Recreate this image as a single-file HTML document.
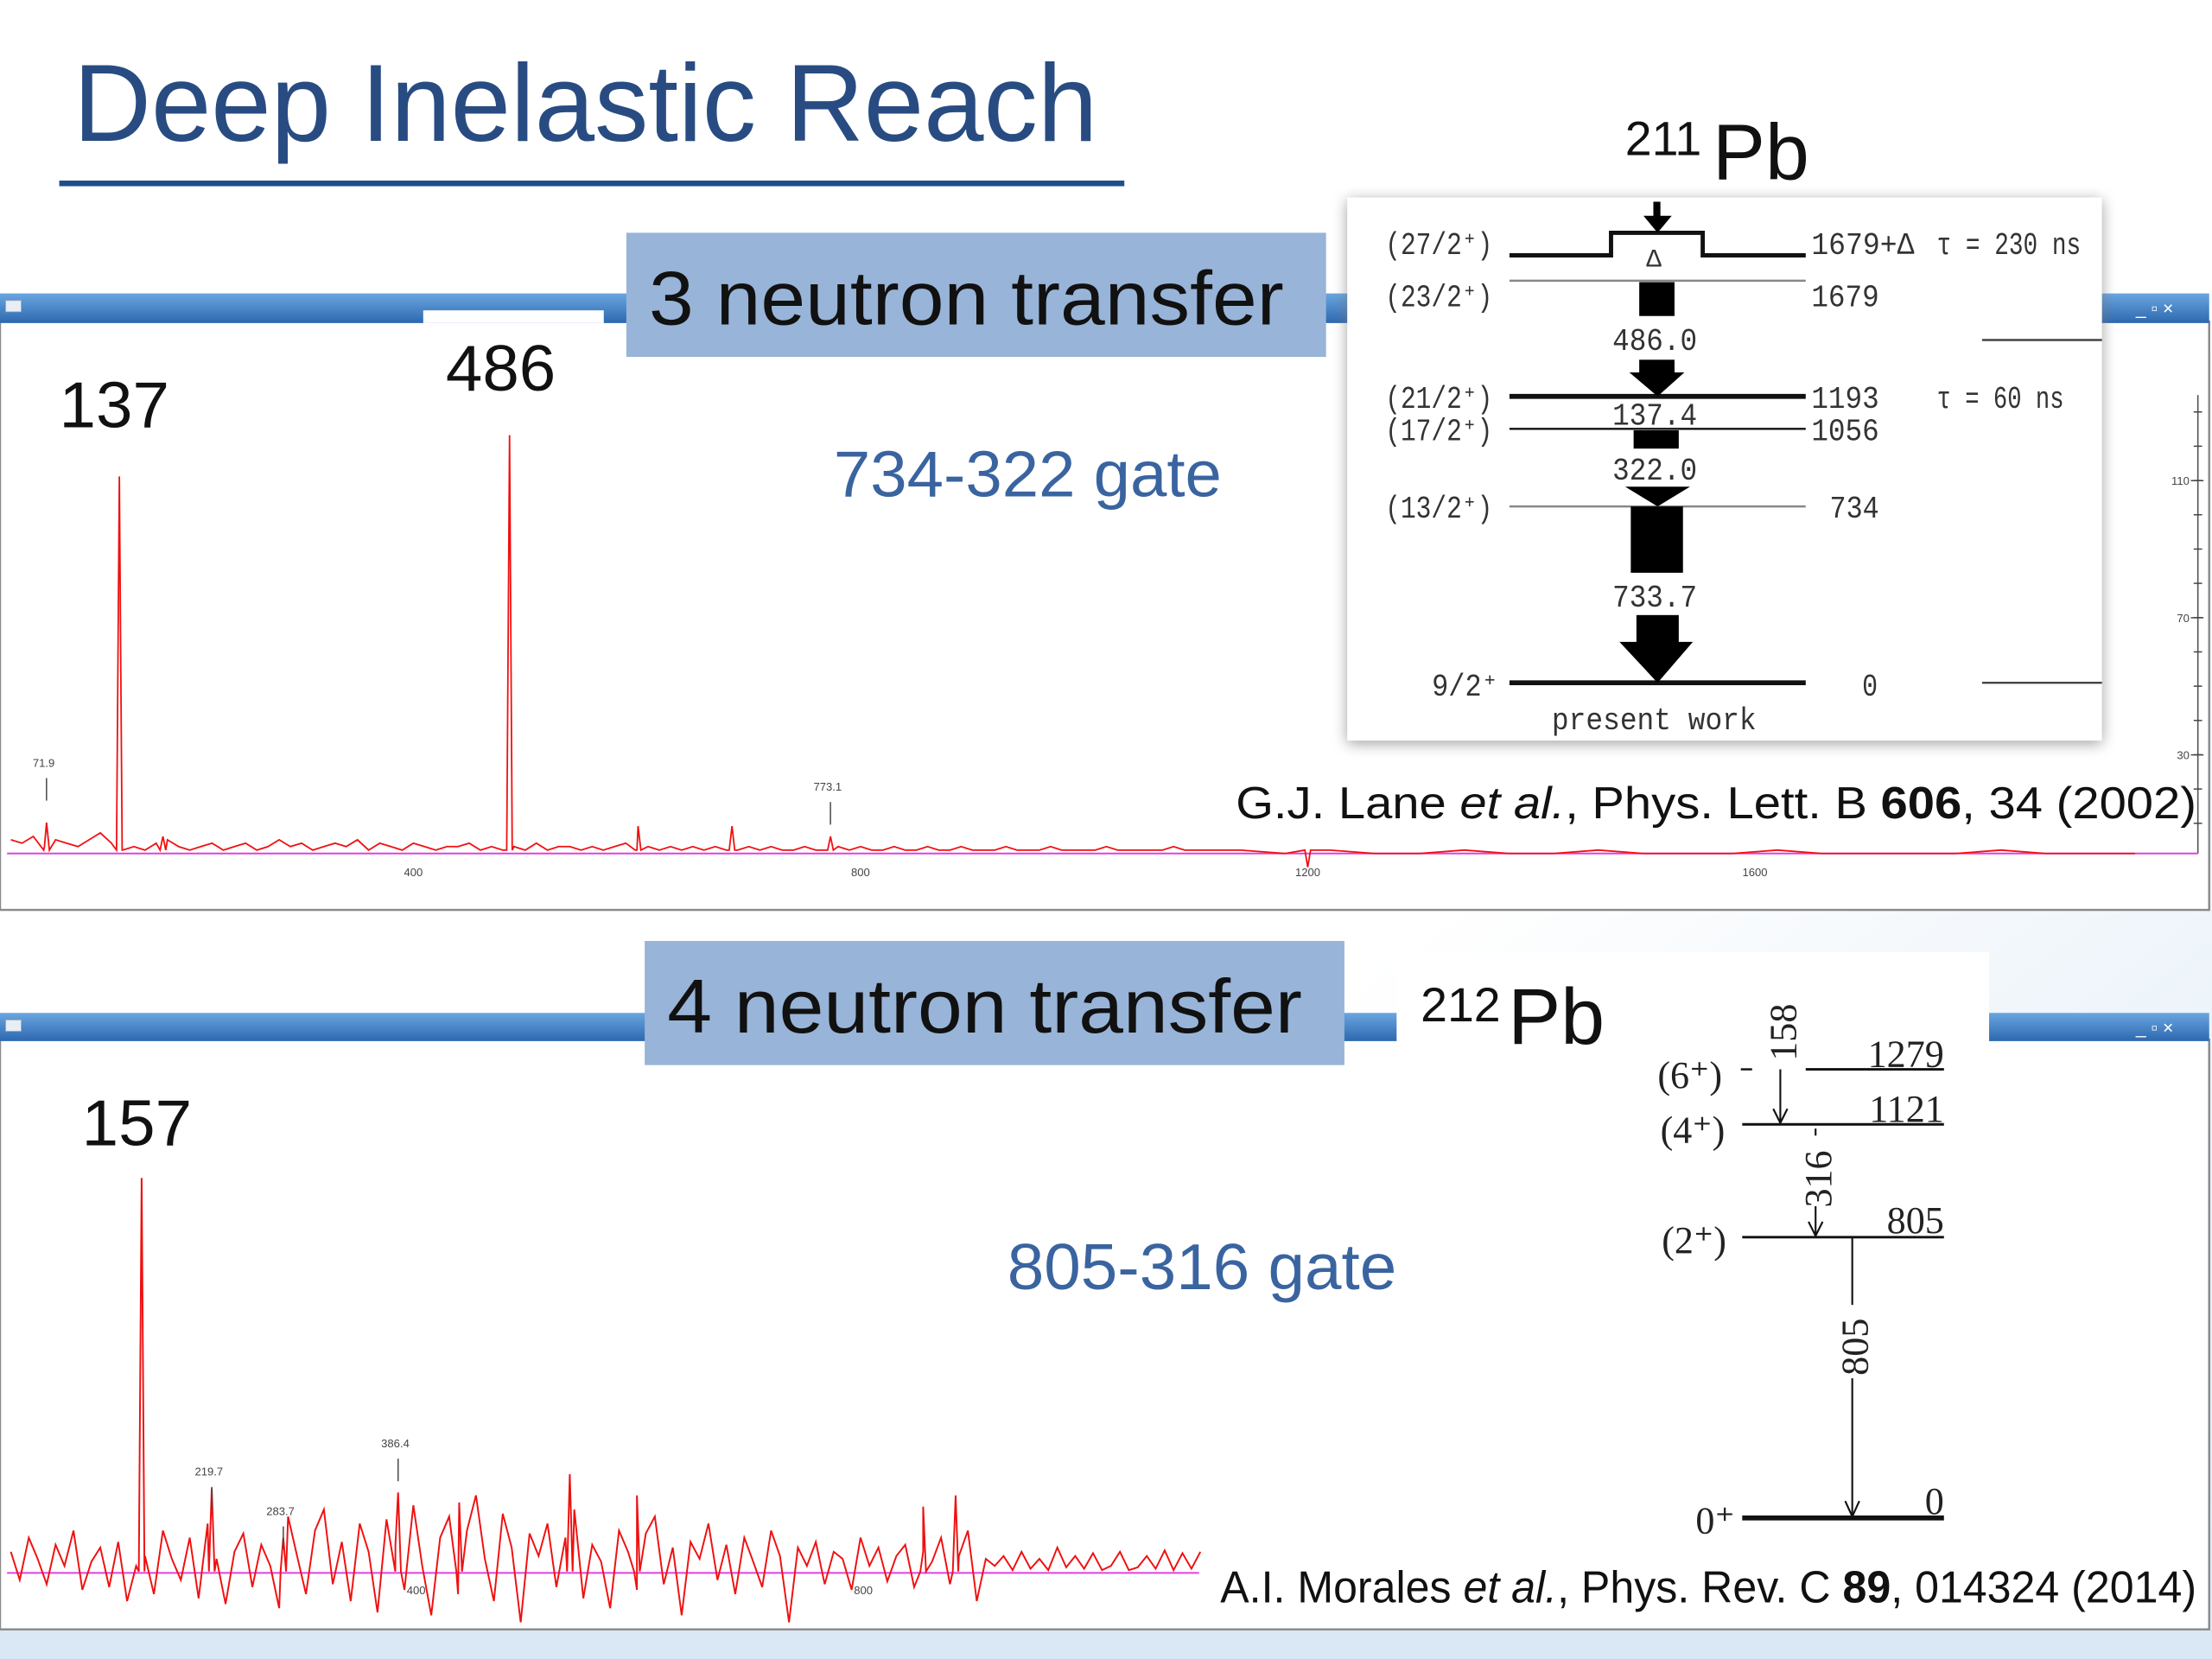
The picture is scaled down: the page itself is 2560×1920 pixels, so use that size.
<!DOCTYPE html>
<html><head><meta charset="utf-8"><style>
html,body{margin:0;padding:0;background:#fff;}
svg{display:block;}
</style></head><body>
<svg id="slide" width="2560" height="1920" viewBox="0 0 1568 1176" xmlns="http://www.w3.org/2000/svg">
<defs>
<linearGradient id="bar" x1="0" y1="0" x2="0" y2="1"><stop offset="0" stop-color="#6aa6e0"/><stop offset="1" stop-color="#2d68b0"/></linearGradient>
<linearGradient id="bg" x1="0" y1="0" x2="1" y2="1"><stop offset="0.6" stop-color="#ffffff"/><stop offset="1" stop-color="#dbe9f5"/></linearGradient>
<filter id="sh" x="-5%" y="-5%" width="110%" height="110%"><feGaussianBlur stdDeviation="5"/></filter>
</defs>
<rect width="1568" height="1176" fill="url(#bg)"/>
<rect y="1155" width="1568" height="21" fill="#d9e8f4"/>

<text x="52" y="100" font-family="Liberation Sans, sans-serif" font-size="78" fill="#284c82" textLength="726" lengthAdjust="spacingAndGlyphs">Deep Inelastic Reach</text>
<rect x="42" y="128" width="755" height="4" fill="#1f4e8c"/>

<!-- top window -->
<g>
<rect x="0" y="228" width="1566" height="417" fill="#fff" stroke="#8a8a8a" stroke-width="1.5"/>
<rect x="0" y="208" width="1566" height="21" fill="url(#bar)"/>
<rect x="300" y="220" width="128" height="9" fill="#fff"/>
<rect x="4" y="213" width="11" height="8" fill="#e8eef6" stroke="#9ab" stroke-width="0.5"/>
<text x="1514" y="223" font-family="Liberation Sans, sans-serif" font-size="13" fill="#fff">_ ▫ ×</text>
</g>
<line x1="1558" y1="280" x2="1558" y2="605" stroke="#555" stroke-width="1"/>
<g id="topYTicks"></g>
<g id="topXTicks"></g>
<line x1="5" y1="605" x2="1558" y2="605" stroke="#e040e0" stroke-width="1.2"/>
<polyline id="topSpec" fill="none" stroke="#f01010" stroke-width="1.1"/>
<g id="topLabels"></g>

<rect x="444" y="165" width="496" height="88" fill="#98b4d8"/>
<text x="460" y="230" font-family="Liberation Sans, sans-serif" font-size="54" fill="#111" textLength="450" lengthAdjust="spacingAndGlyphs">3 neutron transfer</text>
<text x="42" y="303" font-family="Liberation Sans, sans-serif" font-size="46" fill="#111" textLength="78" lengthAdjust="spacingAndGlyphs">137</text>
<text x="316" y="277" font-family="Liberation Sans, sans-serif" font-size="46" fill="#111" textLength="78" lengthAdjust="spacingAndGlyphs">486</text>
<text x="591" y="352" font-family="Liberation Sans, sans-serif" font-size="46" fill="#3a64a0" textLength="275" lengthAdjust="spacingAndGlyphs">734-322 gate</text>

<!-- 211Pb level scheme -->
<text font-family="Liberation Sans, sans-serif" fill="#111"><tspan x="1152" y="110" font-size="34">211</tspan><tspan x="1214" y="127" font-size="56">Pb</tspan></text>
<rect x="955" y="142" width="535" height="385" fill="#777" filter="url(#sh)" opacity="0.7"/>
<rect x="955" y="140" width="535" height="385" fill="#fff"/>
<line x1="1405" y1="241" x2="1490" y2="241" stroke="#444" stroke-width="1.5"/>
<line x1="1405" y1="484" x2="1490" y2="484" stroke="#444" stroke-width="1.5"/>
<g font-family="Liberation Mono, monospace" font-size="22" fill="#333" lengthAdjust="spacingAndGlyphs">
<text x="982" y="180" textLength="76" lengthAdjust="spacingAndGlyphs">(27/2⁺)</text>
<text x="982" y="217" textLength="76" lengthAdjust="spacingAndGlyphs">(23/2⁺)</text>
<text x="982" y="289" textLength="76" lengthAdjust="spacingAndGlyphs">(21/2⁺)</text>
<text x="982" y="312" textLength="76" lengthAdjust="spacingAndGlyphs">(17/2⁺)</text>
<text x="982" y="367" textLength="76" lengthAdjust="spacingAndGlyphs">(13/2⁺)</text>
<text x="1015" y="493" textLength="47" lengthAdjust="spacingAndGlyphs">9/2⁺</text>
<text x="1284" y="180" textLength="73" lengthAdjust="spacingAndGlyphs">1679+Δ</text><text x="1373" y="180" textLength="102" lengthAdjust="spacingAndGlyphs">τ = 230 ns</text>
<text x="1284" y="217" textLength="48" lengthAdjust="spacingAndGlyphs">1679</text>
<text x="1284" y="289" textLength="48" lengthAdjust="spacingAndGlyphs">1193</text><text x="1373" y="289" textLength="90" lengthAdjust="spacingAndGlyphs">τ = 60 ns</text>
<text x="1284" y="312" textLength="48" lengthAdjust="spacingAndGlyphs">1056</text>
<text x="1297" y="367" textLength="35" lengthAdjust="spacingAndGlyphs">734</text>
<text x="1320" y="493" textLength="11" lengthAdjust="spacingAndGlyphs">0</text>
<text x="1143" y="248" textLength="60" lengthAdjust="spacingAndGlyphs">486.0</text>
<text x="1143" y="301" textLength="60" lengthAdjust="spacingAndGlyphs">137.4</text>
<text x="1143" y="340" textLength="60" lengthAdjust="spacingAndGlyphs">322.0</text>
<text x="1143" y="430" textLength="60" lengthAdjust="spacingAndGlyphs">733.7</text>
<text x="1167" y="189" font-size="18">Δ</text>
<text x="1100" y="517" textLength="145" lengthAdjust="spacingAndGlyphs">present work</text>
</g>
<g stroke="#111" fill="none">
<polyline points="1070,181 1142,181 1142,165 1207,165 1207,181 1280,181" stroke-width="3"/>
<line x1="1070" y1="199" x2="1280" y2="199" stroke="#888" stroke-width="1.5"/>
<line x1="1070" y1="281" x2="1280" y2="281" stroke-width="3.5"/>
<line x1="1070" y1="304" x2="1280" y2="304" stroke-width="1.5"/>
<line x1="1070" y1="359" x2="1280" y2="359" stroke="#888" stroke-width="1.5"/>
<line x1="1070" y1="484" x2="1280" y2="484" stroke-width="3.5"/>
</g>
<g fill="#000">
<rect x="1172" y="143" width="5" height="12"/><polygon points="1165,153 1185,153 1175,165"/>
<rect x="1162" y="200" width="25" height="24"/>
<rect x="1162" y="255" width="25" height="9"/><polygon points="1155,264 1194,264 1175,281"/>
<rect x="1158" y="305" width="32" height="13"/>
<polygon points="1152,345 1198,345 1175,359"/>
<rect x="1156" y="359" width="37" height="47"/>
<rect x="1160" y="436" width="30" height="20"/><polygon points="1148,455 1200,455 1175,484"/>
</g>

<text x="876" y="580" font-family="Liberation Sans, sans-serif" font-size="32" fill="#111" textLength="681" lengthAdjust="spacingAndGlyphs">G.J. Lane <tspan font-style="italic">et al.</tspan>, Phys. Lett. B <tspan font-weight="bold">606</tspan>, 34 (2002)</text>

<!-- bottom window -->
<g>
<rect x="0" y="737" width="1566" height="418" fill="#fff" stroke="#8a8a8a" stroke-width="1.5"/>
<rect x="0" y="718" width="1566" height="20" fill="url(#bar)"/>
<rect x="4" y="723" width="11" height="8" fill="#e8eef6" stroke="#9ab" stroke-width="0.5"/>
<text x="1514" y="733" font-family="Liberation Sans, sans-serif" font-size="13" fill="#fff">_ ▫ ×</text>
</g>
<rect x="990" y="675" width="420" height="420" fill="#fff"/>
<g id="botXTicks"></g>
<line x1="5" y1="1115" x2="850" y2="1115" stroke="#e040e0" stroke-width="1.2"/>
<polyline id="botSpec" fill="none" stroke="#f01010" stroke-width="1.2"/>
<g id="botLabels"></g>

<rect x="457" y="667" width="496" height="88" fill="#98b4d8"/>
<text x="473" y="732" font-family="Liberation Sans, sans-serif" font-size="54" fill="#111" textLength="450" lengthAdjust="spacingAndGlyphs">4 neutron transfer</text>
<text x="58" y="812" font-family="Liberation Sans, sans-serif" font-size="46" fill="#111" textLength="78" lengthAdjust="spacingAndGlyphs">157</text>
<text x="714" y="914" font-family="Liberation Sans, sans-serif" font-size="46" fill="#3a64a0" textLength="276" lengthAdjust="spacingAndGlyphs">805-316 gate</text>
<text font-family="Liberation Sans, sans-serif" fill="#111"><tspan x="1007" y="724" font-size="34">212</tspan><tspan x="1069" y="740" font-size="56">Pb</tspan></text>

<g font-family="Liberation Serif, serif" font-size="27" fill="#222">
<g stroke="#111" fill="none">
<line x1="1280" y1="758" x2="1378" y2="758" stroke-width="1.8"/>
<line x1="1235" y1="797" x2="1378" y2="797" stroke-width="1.8"/>
<line x1="1235" y1="877" x2="1378" y2="877" stroke-width="1.8"/>
<line x1="1235" y1="1076" x2="1378" y2="1076" stroke-width="3.5"/>
<line x1="1234" y1="758" x2="1242" y2="758" stroke-width="1.5"/>
<line x1="1262" y1="758" x2="1262" y2="796" stroke-width="1.3"/><polyline points="1257,786 1262,796 1267,786" stroke-width="1.3"/>
<line x1="1287" y1="800" x2="1287" y2="876" stroke-width="1.3"/><polyline points="1282,866 1287,876 1292,866" stroke-width="1.3"/>
<line x1="1313" y1="877" x2="1313" y2="1075" stroke-width="1.3"/><polyline points="1308,1064 1313,1075 1318,1064" stroke-width="1.3"/>
</g>
<rect x="1300" y="925" width="26" height="52" fill="#fff"/>
<rect x="1274" y="805" width="26" height="50" fill="#fff"/>
<text x="1175" y="771">(6⁺)</text><text x="1177" y="810">(4⁺)</text><text x="1178" y="888">(2⁺)</text><text x="1202" y="1087">0⁺</text>
<text x="1378" y="756" text-anchor="end">1279</text><text x="1378" y="795" text-anchor="end">1121</text>
<text x="1378" y="874" text-anchor="end">805</text><text x="1378" y="1073" text-anchor="end">0</text>
<text transform="translate(1273,752) rotate(-90)">158</text>
<text transform="translate(1298,856) rotate(-90)">316</text>
<text transform="translate(1324,975) rotate(-90)">805</text>
</g>

<text x="865" y="1136" font-family="Liberation Sans, sans-serif" font-size="32" fill="#111" textLength="692" lengthAdjust="spacingAndGlyphs">A.I. Morales <tspan font-style="italic">et al.</tspan>, Phys. Rev. C <tspan font-weight="bold">89</tspan>, 014324 (2014)</text>
</svg>
<script>
// ---- data ----
const topBg = [4,3,5,2,4,3,2,4,6,3, 1,2,1,3,4,2,1,2,3,1, 2,3,1,2,4,2,3,1,2,3, 2,4,1,3,2,1,3,2,1,2, 2,3,1,2,1,2,1,3,1,2, 2,1,2,1,2,3,1,2,1,2, 1,2,1,2,1,1,2,1,2,1, 1,2,1,1,2,1,2,1,1,2, 1,1,2,1,1,2,1,1,1,2, 1,1,1,2,1,1,1,1,2,1, 1,1,1,1,2,1,1];
const topTail = [1,0,1,0,0,1,0,0,1,0,0,0,1,0,0,0,0,1,0,0,0];
const topPeakE = [71.9,137,176,486,601,685,773.1,1200];
const topPeakC = [9,110,5,122,8,8,5,-4];
const topYTickVals = [30,70,110];
const xTickVals = [400,800,1200,1600];
const botXTickVals = [400,800];
const botBg = [15,-5,25,10,-8,20,5,30,-12,8, 18,-10,22,-20,5,12,-15,30,10,-5, 25,-18,35,10,-22,15,28,-10,20,5, -25,40,12,-15,30,45,-8,22,-20,35, 15,-28,38,20,-12,48,5,-30,25,40, -15,30,55,10,-20,42,18,-35,28,12, 35,-10,25,45,-18,20,8,-25,30,15, -12,28,40,-8,18,-30,22,10,35,-5, 20,-15,25,8,-10,30,12,-35,18,5, 22,-8,15,10,-12,25,5,18,-6,12, 20,-10,15,8,25,-8,12,30,-20,10, 5,12,2,15,3,10,2,18,4,12, 3,14,2,5,15,2,4,12,3,16,2,14,3,15];
const botPeakE = [157,219.7,283.7,386.4,441,540,600,856,885];
const botPeakC = [280,60,25,57,50,70,55,47,55];
const topLabelE = [71.9,773.1];
const topLabelTxt = ["71.9","773.1"];
const topLabelC = [22,15];
const botLabelE = [219.7,283.7,386.4];
const botLabelTxt = ["219.7","283.7","386.4"];
const botLabelC = [45,17,65];

// ---- scales ----
function xE(e){return 293+(e-400)*0.7925;}
function yTop(c){return 605-c*2.43;}
function yBot(c){return 1115-c;}
const NS="http://www.w3.org/2000/svg";

function buildSeries(bg,step,start,tail,tailStep,tailStart,pE,pC){
  let pts=[];
  bg.forEach((c,i)=>pts.push([start+i*step,c]));
  if(tail) tail.forEach((c,i)=>pts.push([tailStart+i*tailStep,c]));
  pE.forEach((e,i)=>{pts.push([e-2.5,1]);pts.push([e,pC[i]]);pts.push([e+2.5,1]);});
  pts.sort((a,b)=>a[0]-b[0]);
  return pts;
}
const tp=buildSeries(topBg,10,40,topTail,40,1140,topPeakE,topPeakC);
document.getElementById('topSpec').setAttribute('points',tp.map(p=>xE(p[0]).toFixed(1)+','+yTop(p[1]).toFixed(1)).join(' '));
const bp=buildSeries(botBg,8,40,null,0,0,botPeakE,botPeakC);
document.getElementById('botSpec').setAttribute('points',bp.map(p=>xE(p[0]).toFixed(1)+','+yBot(p[1]).toFixed(1)).join(' '));

function txt(g,x,y,s,size,anchor){const t=document.createElementNS(NS,'text');t.setAttribute('x',x);t.setAttribute('y',y);t.setAttribute('font-family','Liberation Sans, sans-serif');t.setAttribute('font-size',size);t.setAttribute('fill','#444');if(anchor)t.setAttribute('text-anchor',anchor);t.textContent=s;g.appendChild(t);return t;}
function ln(g,x1,y1,x2,y2){const l=document.createElementNS(NS,'line');l.setAttribute('x1',x1);l.setAttribute('y1',y1);l.setAttribute('x2',x2);l.setAttribute('y2',y2);l.setAttribute('stroke','#444');l.setAttribute('stroke-width','0.9');g.appendChild(l);return l;}

const gyt=document.getElementById('topYTicks');
topYTickVals.forEach(v=>{
  const y=yTop(v)+3;
  const l=ln(gyt,1553,y,1562,y);
  
  
  const t=txt(gyt,1552,y+3,String(v),8,'end');
  
  
});
for(let k=0;k<13;k++){const y=292+k*24.3;const l=ln(gyt,1555,y,1561,y);
  
  }

const gxt=document.getElementById('topXTicks');
xTickVals.forEach(v=>{
  const t=txt(gxt,xE(v),621,String(v),8,'middle');
  
  
});
const gbx=document.getElementById('botXTicks');
botXTickVals.forEach(v=>{
  const t=txt(gbx,xE(v)+2,1130,String(v),8,'middle');
  
  
});

const gtl=document.getElementById('topLabels');
topLabelE.forEach((e,i)=>{
  const x=xE(e);const y=yTop(topLabelC[i]);
  const l=ln(gtl,x,y,x,y+16);
  
  
  const t=txt(gtl,x-2,y-8,topLabelTxt[i],8,'middle');
  
  
});
const gbl=document.getElementById('botLabels');
botLabelE.forEach((e,i)=>{
  const x=xE(e);const y=yBot(botLabelC[i]);
  const l=ln(gbl,x,y-16,x,y);
  
  
  const t=txt(gbl,x-2,y-24,botLabelTxt[i],8,'middle');
  
  
});
</script>
</body></html>
